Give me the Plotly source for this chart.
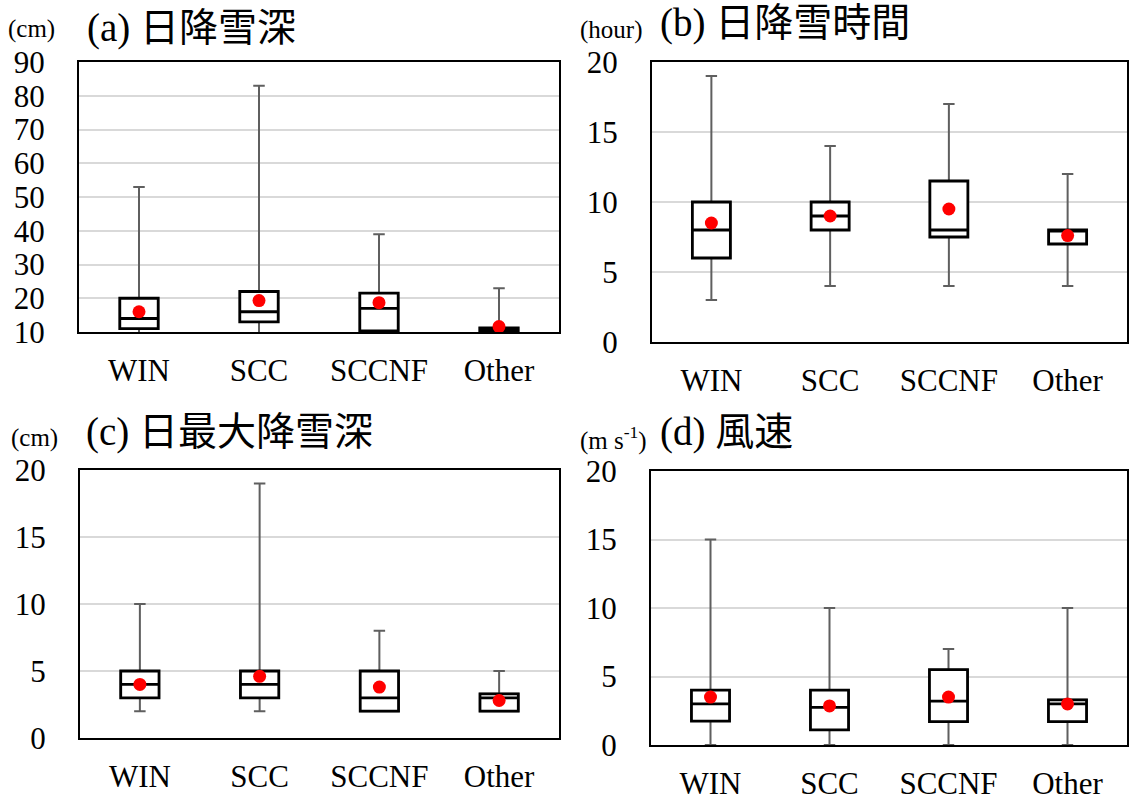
import plotly.graph_objects as go

W, H = 1129, 800

categories = ["WIN", "SCC", "SCCNF", "Other"]

# (a) daily snowfall depth (cm)
a_lower = [1, 1, 1, 1]
a_q1 = [11, 13, 10.3, 10]
a_median = [14, 16, 17, 10.6]
a_q3 = [20, 22, 21.5, 11.2]
a_upper = [53, 83, 39, 23]
a_mean = [16.0, 19.3, 18.7, 11.6]

# (b) daily snowfall duration (hour)
b_lower = [3, 4, 4, 4]
b_q1 = [6, 8, 7.5, 7]
b_median = [8, 9, 8, 8]
b_q3 = [10, 10, 11.5, 8]
b_upper = [19, 14, 17, 12]
b_mean = [8.5, 9.0, 9.5, 7.6]

# (c) daily maximum snowfall depth (cm)
c_lower = [2, 2, 2, 2]
c_q1 = [3, 3, 2, 2]
c_median = [4, 4, 3, 3]
c_q3 = [5, 5, 5, 3.3]
c_upper = [10, 19, 8, 5]
c_mean = [4.0, 4.6, 3.8, 2.8]

# (d) wind speed (m s-1)
d_lower = [0, 0, 0, 0]
d_q1 = [1.75, 1.1, 1.7, 1.7]
d_median = [3.0, 2.75, 3.2, 3.0]
d_q3 = [4.0, 4.0, 5.5, 3.3]
d_upper = [15, 10, 7, 10]
d_mean = [3.5, 2.85, 3.5, 3.0]

y_ticks_a = [10, 20, 30, 40, 50, 60, 70, 80, 90]
y_ticks_b = [0, 5, 10, 15, 20]

SERIF = "Liberation Serif, Times New Roman, serif"
TITLE_FONT = "Liberation Serif, Noto Sans CJK JP"


def px_x(x):
    return x / W


def px_y(y):
    return 1 - y / H


panels = [
    ("", (a_lower, a_q1, a_median, a_q3, a_upper, a_mean), (79, 559), (62, 332), [10, 90], y_ticks_a),
    ("2", (b_lower, b_q1, b_median, b_q3, b_upper, b_mean), (652, 1127), (62, 342), [0, 20], y_ticks_b),
    ("3", (c_lower, c_q1, c_median, c_q3, c_upper, c_mean), (80, 559), (470, 738), [0, 20], y_ticks_b),
    ("4", (d_lower, d_q1, d_median, d_q3, d_upper, d_mean), (651, 1127), (471, 745), [0, 20], y_ticks_b),
]

fig = go.Figure()
layout = {}

for suffix, stats, (x0, x1), (y0, y1), yr, ticks in panels:
    lo, q1, med, q3, hi, mean = stats
    xa = "x" + suffix
    ya = "y" + suffix
    # whiskers in grey
    fig.add_trace(go.Box(
        x=categories, q1=q1, median=med, q3=q3, lowerfence=lo, upperfence=hi,
        xaxis=xa, yaxis=ya, width=0.32, whiskerwidth=0.3,
        line=dict(color="#5f5f5f", width=2), fillcolor="white",
        boxpoints=False, showlegend=False, hoverinfo="skip",
    ))
    # box body in black
    fig.add_trace(go.Box(
        x=categories, q1=q1, median=med, q3=q3, lowerfence=q1, upperfence=q3,
        xaxis=xa, yaxis=ya, width=0.32, whiskerwidth=0.0,
        line=dict(color="black", width=2.8), fillcolor="white",
        boxpoints=False, showlegend=False, hoverinfo="skip",
    ))
    # mean markers
    fig.add_trace(go.Scatter(
        x=categories, y=mean, xaxis=xa, yaxis=ya, mode="markers",
        marker=dict(color="#ff0000", size=13, line=dict(width=0)),
        showlegend=False, hoverinfo="skip",
    ))
    layout["xaxis" + suffix] = dict(
        domain=[px_x(x0), px_x(x1)], anchor=ya, type="category",
        categoryorder="array", categoryarray=categories, range=[-0.5, 3.5],
        showline=True, linecolor="black", linewidth=2, mirror=True,
        showgrid=False, zeroline=False, ticks="", automargin=False,
        tickfont=dict(family=SERIF, size=31, color="black"),
        ticklabelstandoff=10,
    )
    layout["yaxis" + suffix] = dict(
        domain=[px_y(y1), px_y(y0)], anchor=xa, range=yr,
        tickvals=ticks, showline=True, linecolor="black", linewidth=2,
        mirror=True, showgrid=True, gridcolor="#d9d9d9", gridwidth=1.5,
        zeroline=False, ticks="", automargin=False,
        tickfont=dict(family=SERIF, size=31, color="black"),
        ticklabelstandoff=26,
    )

annotations = []


def label(text, x, y, size, family):
    annotations.append(dict(
        text=text, x=px_x(x), y=px_y(y), xref="paper", yref="paper",
        xanchor="left", yanchor="middle", showarrow=False,
        font=dict(family=family, size=size, color="black"),
    ))


label("(cm)", 6, 29, 25, SERIF)
label("(a) 日降雪深", 85, 28, 39, TITLE_FONT)
label("(hour)", 578, 30, 25, SERIF)
label("(b) 日降雪時間", 658, 23, 39, TITLE_FONT)
label("(cm)", 9, 438, 25, SERIF)
label("(c) 日最大降雪深", 84, 432, 39, TITLE_FONT)
label("(m s<sup>-1</sup>)", 578, 438, 25, SERIF)
label("(d) 風速", 658, 432, 39, TITLE_FONT)

fig.update_layout(
    width=W, height=H, autosize=False, margin=dict(l=0, r=0, t=0, b=0, pad=0),
    paper_bgcolor="white", plot_bgcolor="white",
    boxmode="overlay", annotations=annotations, **layout,
)

fig.write_html(
    "out.html",
    config={"responsive": False, "displayModeBar": False},
    post_script="document.body.style.margin='0px';document.body.style.overflow='hidden';",
)
